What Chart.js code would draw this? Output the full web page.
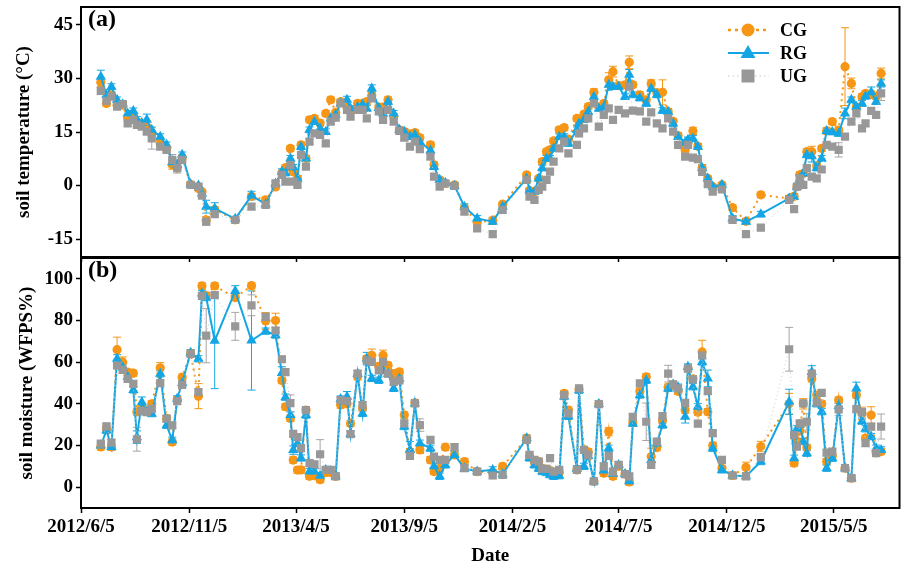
<!DOCTYPE html>
<html>
<head>
<meta charset="utf-8">
<script src="https://cdn.jsdelivr.net/npm/chart.js@4.4.0/dist/chart.umd.min.js"></script>
<style>
  html, body { margin: 0; padding: 0; background: #fff; }
  #wrap { position: relative; width: 906px; height: 571px; }
  canvas { position: absolute; left: 0; }
  #moistChart { top: 252px; }
  #tempChart { top: 0; }
</style>
</head>
<body>
<div id="wrap">
  <canvas id="moistChart" width="906" height="319"></canvas>
  <canvas id="tempChart" width="906" height="270"></canvas>
</div>
<script>
// Sampling dates
const sampleDates = [
  '2012/7/3','2012/7/11','2012/7/18','2012/7/26','2012/8/3','2012/8/10','2012/8/18','2012/8/23','2012/8/30','2012/9/6',
  '2012/9/13','2012/9/25','2012/10/4','2012/10/12','2012/10/19','2012/10/26','2012/11/7','2012/11/18','2012/11/23','2012/11/29',
  '2012/12/11','2013/1/9','2013/2/1','2013/2/21','2013/3/7','2013/3/16','2013/3/21','2013/3/28','2013/4/1','2013/4/7',
  '2013/4/12','2013/4/19','2013/4/24','2013/5/1','2013/5/9','2013/5/17','2013/5/24','2013/5/31','2013/6/7','2013/6/16',
  '2013/6/21','2013/7/1','2013/7/8','2013/7/14','2013/7/21','2013/7/31','2013/8/6','2013/8/13','2013/8/21','2013/8/29',
  '2013/9/5','2013/9/13','2013/9/20','2013/9/27','2013/10/12','2013/10/17','2013/10/25','2013/11/2','2013/11/15','2013/11/29',
  '2013/12/17','2014/1/8','2014/1/22','2014/2/25','2014/3/1','2014/3/8','2014/3/14','2014/3/19','2014/3/25','2014/3/30',
  '2014/4/4','2014/4/12','2014/4/19','2014/4/25','2014/5/7','2014/5/10','2014/5/17','2014/5/23','2014/5/31','2014/6/7',
  '2014/6/14','2014/6/21','2014/6/27','2014/7/5','2014/7/14','2014/7/20','2014/7/25','2014/8/4','2014/8/13','2014/8/20',
  '2014/8/28','2014/9/5','2014/9/13','2014/9/20','2014/9/27','2014/10/7','2014/10/11','2014/10/18','2014/10/25','2014/10/31',
  '2014/11/8','2014/11/15','2014/11/28','2014/12/13','2015/1/1','2015/1/22','2015/3/3','2015/3/10','2015/3/14','2015/3/18',
  '2015/3/23','2015/3/28','2015/4/4','2015/4/11','2015/4/18','2015/4/25','2015/5/3','2015/5/12','2015/5/21','2015/5/30',
  '2015/6/6','2015/6/14','2015/6/19','2015/6/27','2015/7/4','2015/7/11'
];

// Axis ticks
const xTickLabels = ['2012/6/5','2012/11/5','2013/4/5','2013/9/5','2014/2/5','2014/7/5','2014/12/5','2015/5/5'];
const tempTicks = [-15, 0, 15, 30, 45];
const moistTicks = [0, 20, 40, 60, 80, 100];

// (a) soil temperature
const cgTemp = [
  28.9, 23.0, 25.4, 22.5, 22.5, 18.9, 19.4, 17.8, 17.0, 16.5,
  14.6, 11.7, 10.4, 5.8, 4.9, 7.8, 0.3, -0.8, -1.7, -9.7,
  -6.7, -9.6, -3.0, -4.0, -0.4, 3.5, 5.0, 10.4, 3.9, 2.0,
  11.4, 7.6, 18.4, 18.8, 17.5, 20.2, 24.0, 20.5, 23.5, 22.0,
  21.0, 23.0, 23.0, 23.5, 25.2, 22.0, 22.0, 24.0, 19.4, 15.6,
  15.1, 14.5, 14.8, 13.4, 11.4, 5.8, 1.6, 0.6, 0.2, -6.2,
  -10.3, -9.7, -5.2, 3.0, -1.4, -1.7, 2.0, 6.7, 9.5, 10.0,
  12.5, 15.6, 16.2, 13.0, 18.8, 18.0, 20.0, 22.1, 26.1, 22.0,
  23.0, 29.6, 31.9, 28.0, 28.2, 34.5, 28.2, 25.4, 24.0, 28.6,
  26.0, 26.1, 20.7, 18.0, 14.0, 10.0, 12.0, 15.3, 11.0, 4.9,
  2.0, -0.3, 0.2, -6.2, -10.0, -2.6, -3.6, -3.0, -0.3, 3.0,
  3.4, 9.5, 9.5, 5.5, 10.4, 15.3, 17.9, 15.5, 33.3, 28.6,
  22.0, 24.9, 25.8, 25.5, 25.0, 31.4
];
const rgTemp = [
  30.5, 25.4, 27.7, 24.0, 22.8, 20.2, 20.9, 18.5, 17.5, 18.4,
  15.6, 13.7, 11.4, 6.5, 5.8, 8.6, 0.4, 0.0, -2.2, -5.9,
  -6.4, -9.3, -2.8, -5.2, 0.6, 3.9, 3.5, 7.6, 5.1, 2.0,
  10.9, 7.6, 15.6, 17.9, 16.0, 15.1, 18.8, 19.8, 23.0, 24.0,
  21.6, 22.0, 22.6, 21.6, 27.2, 21.7, 20.2, 23.5, 20.2, 15.6,
  15.1, 13.7, 14.2, 12.3, 9.8, 5.3, 1.6, 0.8, -0.1, -5.9,
  -9.2, -10.1, -5.9, 2.0, -1.4, -1.7, 2.0, 4.9, 7.6, 7.6,
  10.4, 13.7, 13.7, 11.8, 15.6, 17.4, 18.5, 20.7, 24.9, 21.6,
  22.0, 28.2, 27.7, 27.7, 24.9, 31.0, 25.4, 24.5, 23.0, 27.2,
  25.4, 21.0, 20.7, 17.4, 13.7, 12.0, 12.8, 13.2, 10.9, 4.9,
  2.0, -0.3, 0.2, -9.2, -10.1, -8.0, -3.6, -3.1, -0.3, 2.0,
  3.4, 8.6, 8.2, 4.9, 7.6, 15.3, 15.0, 14.6, 20.2, 24.0,
  22.1, 23.0, 25.0, 26.1, 23.5, 28.6
];
const ugTemp = [
  26.5, 23.7, 24.9, 22.1, 22.8, 17.4, 18.4, 17.0, 16.5, 15.1,
  13.2, 10.9, 10.0, 7.2, 4.9, 7.2, 0.2, -0.3, -2.8, -10.1,
  -8.0, -9.6, -5.9, -5.4, 0.6, 3.0, 1.1, 5.8, 1.1, 0.2,
  8.6, 5.3, 12.3, 14.6, 14.2, 11.8, 17.9, 19.0, 23.0, 21.2,
  19.3, 21.2, 21.2, 18.8, 24.4, 20.8, 18.4, 21.2, 17.9, 15.3,
  13.4, 10.9, 12.3, 10.2, 8.1, 2.5, -0.3, 0.6, -0.1, -7.3,
  -12.0, -13.6, -6.8, 1.6, -3.1, -4.0, -1.2, -0.3, 1.6, 3.9,
  6.7, 10.4, 12.3, 9.0, 11.4, 14.6, 16.0, 18.8, 23.0, 16.5,
  19.8, 21.6, 18.4, 21.2, 20.2, 27.7, 21.0, 20.8, 17.9, 20.5,
  17.4, 16.0, 18.8, 15.1, 11.4, 8.1, 11.4, 7.8, 7.4, 3.8,
  0.4, -1.7, -1.1, -9.6, -13.6, -11.8, -4.0, -6.6, -0.3, 2.0,
  0.2, 4.9, 2.5, 2.0, 4.5, 11.4, 10.9, 10.0, 13.7, 17.9,
  20.2, 16.0, 17.4, 20.9, 19.8, 25.8
];
const cgTempErr = [
  1.2, 0.8, 0.8, 0.8, 0.8, 0.8, 0.8, 0.8, 0.8, 1.5,
  0.8, 0.8, 0.8, 1.2, 0.8, 0.8, 0.6, 0.6, 0.6, 1.0,
  0.8, 0.6, 0.8, 0.8, 0.6, 0.8, 0.8, 0.8, 0.8, 0.8,
  0.8, 0.8, 0.8, 0.8, 0.8, 0.8, 0.8, 0.6, 0.8, 0.8,
  0.8, 0.8, 0.8, 0.8, 1.0, 0.8, 0.8, 0.8, 0.8, 0.8,
  0.8, 0.8, 0.8, 0.8, 0.8, 0.8, 0.6, 0.6, 0.6, 0.8,
  0.8, 0.8, 0.8, 0.6, 0.6, 0.6, 0.6, 0.8, 0.8, 0.8,
  0.8, 0.8, 0.8, 0.8, 0.8, 0.8, 0.8, 0.8, 1.0, 0.8,
  0.8, 2.0, 1.5, 0.8, 0.8, 1.8, 0.8, 0.8, 0.8, 1.0,
  0.8, 3.5, 0.8, 0.8, 0.8, 0.8, 0.8, 1.0, 0.8, 1.0,
  0.6, 0.6, 0.6, 0.8, 0.8, 0.8, 0.8, 0.8, 0.6, 0.8,
  0.8, 0.8, 1.5, 0.8, 0.8, 0.8, 0.8, 0.8, 10.9, 1.5,
  0.8, 0.8, 0.8, 1.0, 0.8, 1.5
];
const rgTempErr = [
  1.8, 0.8, 0.8, 0.8, 0.8, 0.8, 0.8, 0.8, 0.8, 1.6,
  0.8, 0.8, 0.8, 1.2, 1.4, 0.8, 0.6, 0.6, 0.6, 1.8,
  1.6, 0.6, 1.2, 0.8, 0.6, 0.8, 0.8, 0.8, 0.8, 0.8,
  0.8, 0.8, 0.8, 0.8, 0.8, 0.8, 0.8, 0.6, 0.8, 1.0,
  0.8, 0.8, 0.8, 0.8, 1.0, 0.8, 0.8, 0.8, 0.8, 0.8,
  0.8, 0.8, 0.8, 0.8, 0.8, 0.8, 0.6, 0.6, 0.6, 0.8,
  0.8, 0.8, 0.8, 0.6, 0.6, 0.6, 0.6, 0.8, 0.8, 0.8,
  0.8, 0.8, 0.8, 0.8, 0.8, 0.8, 0.8, 0.8, 0.8, 0.8,
  0.8, 1.5, 0.8, 0.8, 0.8, 1.5, 0.8, 0.8, 0.8, 0.8,
  0.8, 0.8, 0.8, 0.8, 0.8, 0.8, 0.8, 0.8, 0.8, 0.8,
  0.6, 0.6, 0.6, 0.8, 0.8, 0.8, 0.8, 0.8, 0.6, 0.8,
  0.8, 0.8, 1.6, 0.8, 0.8, 0.8, 0.8, 0.8, 1.5, 0.8,
  0.8, 0.8, 0.8, 1.5, 0.8, 1.0
];
const ugTempErr = [
  1.0, 0.8, 0.8, 0.8, 0.8, 0.8, 0.8, 0.8, 0.8, 0.8,
  3.0, 0.8, 0.8, 1.5, 1.4, 0.8, 0.6, 0.6, 0.6, 1.0,
  0.8, 0.6, 0.8, 0.8, 0.6, 0.8, 0.8, 0.8, 0.8, 0.8,
  0.8, 0.8, 0.8, 0.8, 0.8, 0.8, 0.8, 0.8, 0.8, 0.8,
  0.8, 0.8, 0.8, 0.8, 0.8, 0.8, 0.8, 0.8, 0.8, 0.8,
  0.8, 0.8, 0.8, 0.8, 0.8, 0.8, 0.6, 0.6, 0.6, 0.8,
  0.8, 0.8, 0.8, 0.6, 0.6, 0.6, 0.6, 0.8, 0.8, 0.8,
  0.8, 0.8, 0.8, 0.8, 0.8, 0.8, 0.8, 0.8, 0.8, 0.8,
  0.8, 0.8, 0.8, 0.8, 0.8, 0.8, 0.8, 0.8, 0.8, 0.8,
  0.8, 0.8, 0.8, 0.8, 0.8, 0.8, 0.8, 0.8, 0.8, 0.8,
  0.6, 0.6, 0.6, 1.0, 0.8, 0.8, 0.8, 0.8, 0.6, 0.8,
  0.8, 0.8, 0.8, 0.8, 0.8, 0.8, 0.8, 2.0, 0.8, 0.8,
  0.8, 0.8, 0.8, 0.8, 0.8, 2.0
];

// (b) soil moisture
const cgMoist = [
  19.3, 28.0, 19.3, 66.0, 60.0, 55.2, 54.7, 36.1, 38.4, 37.0,
  40.0, 57.3, 33.0, 21.7, 42.0, 52.8, 64.2, 43.7, 96.6, 92.0,
  96.6, 91.0, 96.7, 79.8, 80.0, 51.2, 38.6, 33.0, 13.0, 8.2,
  8.3, 37.0, 5.2, 5.5, 3.6, 7.0, 7.0, 5.2, 39.4, 40.0,
  30.6, 53.0, 38.0, 61.7, 63.3, 58.0, 63.3, 58.5, 54.5, 55.3,
  34.6, 17.0, 40.5, 17.9, 13.1, 7.5, 9.0, 19.2, 15.5, 12.3,
  7.5, 7.0, 10.0, 23.5, 15.0, 12.3, 12.3, 9.0, 8.5, 8.0,
  7.0, 7.0, 45.0, 37.0, 8.3, 47.0, 17.9, 17.0, 2.8, 39.9,
  6.7, 26.7, 5.2, 10.0, 6.3, 2.5, 31.0, 46.0, 53.0, 14.7,
  19.0, 32.0, 48.0, 49.0, 46.0, 37.0, 57.0, 52.0, 36.0, 64.9,
  36.2, 20.0, 9.0, 5.6, 9.5, 19.5, 40.0, 11.5, 22.0, 27.0,
  40.0, 19.0, 52.0, 44.2, 40.0, 12.3, 15.0, 41.8, 9.1, 4.3,
  44.2, 35.4, 23.5, 34.6, 16.5, 17.1
];
const rgMoist = [
  20.0, 27.3, 19.3, 61.6, 57.6, 53.0, 46.7, 24.0, 40.8, 36.0,
  35.3, 54.4, 29.7, 22.5, 42.4, 50.0, 64.5, 61.6, 93.0, 91.0,
  70.3, 94.2, 70.4, 74.9, 73.0, 54.8, 43.2, 34.6, 17.8, 21.0,
  14.0, 34.6, 7.5, 7.5, 5.5, 8.3, 7.8, 5.2, 42.3, 43.4,
  25.5, 54.5, 35.4, 61.7, 52.2, 51.3, 56.0, 54.5, 47.4, 52.0,
  29.1, 17.9, 40.2, 21.1, 18.7, 10.0, 5.2, 10.7, 15.5, 9.0,
  7.5, 8.3, 6.2, 23.5, 14.0, 10.7, 9.0, 7.5, 7.0, 6.0,
  5.2, 5.5, 43.5, 34.0, 8.8, 46.5, 10.0, 15.0, 2.8, 39.9,
  8.0, 18.7, 6.5, 10.7, 6.3, 2.8, 30.6, 44.2, 51.3, 13.0,
  21.0, 29.8, 47.4, 49.3, 48.0, 33.8, 57.7, 48.2, 38.6, 60.1,
  52.2, 18.7, 8.3, 5.6, 5.2, 12.3, 41.0, 13.9, 28.0, 30.0,
  21.9, 16.3, 55.3, 40.0, 36.2, 9.1, 13.9, 39.0, 9.1, 4.3,
  47.4, 31.7, 28.0, 24.3, 18.7, 17.9
];
const ugMoist = [
  20.9, 29.2, 21.4, 58.4, 56.3, 52.0, 49.6, 23.0, 36.5, 36.0,
  37.6, 49.9, 32.9, 29.7, 41.3, 49.1, 64.0, 45.6, 91.8, 72.7,
  92.2, 77.2, 87.3, 81.7, 75.2, 61.4, 55.2, 40.3, 25.6, 24.0,
  18.7, 37.0, 11.5, 11.0, 15.8, 8.3, 8.3, 5.2, 41.8, 41.3,
  25.5, 54.5, 39.4, 60.9, 60.1, 56.1, 60.1, 54.5, 50.6, 51.3,
  30.6, 15.0, 40.2, 29.8, 22.7, 14.7, 13.1, 13.1, 19.2, 9.1,
  7.5, 5.6, 5.9, 22.7, 15.5, 13.1, 12.3, 8.8, 8.8, 13.9,
  7.5, 8.3, 44.2, 35.4, 8.3, 47.4, 17.9, 15.5, 2.8, 39.9,
  10.0, 15.0, 7.5, 10.7, 6.3, 5.2, 33.8, 49.8, 31.4, 10.7,
  21.9, 34.1, 54.5, 49.3, 47.4, 40.5, 56.9, 51.8, 30.5, 63.3,
  46.1, 25.9, 13.1, 5.6, 5.2, 14.4, 66.2, 25.0, 19.5, 30.6,
  40.2, 31.4, 54.5, 40.7, 45.3, 16.6, 17.1, 37.3, 9.1, 4.3,
  37.5, 36.0, 21.1, 29.1, 16.3, 29.1
];
const cgMoistErr = [
  1.5, 1.5, 1.5, 6.0, 2.5, 1.5, 1.5, 1.5, 1.5, 1.5,
  1.5, 2.5, 1.5, 1.5, 1.5, 1.5, 1.5, 6.0, 1.5, 1.5,
  1.5, 1.5, 1.5, 4.0, 3.5, 1.5, 1.5, 1.5, 1.5, 1.5,
  1.5, 1.5, 1.5, 1.5, 1.5, 1.5, 1.5, 1.5, 1.5, 1.5,
  1.5, 1.5, 1.5, 1.5, 3.0, 1.5, 2.5, 1.5, 1.5, 1.5,
  1.5, 1.5, 1.5, 1.5, 1.5, 1.5, 1.5, 1.5, 1.5, 1.5,
  1.5, 1.5, 1.5, 1.5, 1.5, 1.5, 1.5, 1.5, 1.5, 1.5,
  1.5, 1.5, 1.5, 1.5, 1.5, 1.5, 1.5, 1.5, 1.5, 1.5,
  1.5, 2.0, 1.5, 1.5, 1.5, 1.5, 1.5, 1.5, 1.5, 4.0,
  1.5, 1.5, 1.5, 1.5, 1.5, 1.5, 1.5, 1.5, 1.5, 5.6,
  1.5, 1.5, 1.5, 1.5, 2.5, 2.5, 5.0, 1.5, 1.5, 1.5,
  2.5, 1.5, 1.5, 1.5, 1.5, 1.5, 1.5, 1.5, 1.5, 1.5,
  1.5, 3.0, 1.5, 4.0, 1.5, 1.5
];
const rgMoistErr = [
  1.5, 1.5, 1.5, 2.0, 1.5, 1.5, 1.5, 3.0, 2.5, 1.5,
  1.5, 1.5, 1.5, 1.5, 1.5, 1.5, 1.5, 1.5, 1.5, 1.5,
  23.0, 2.5, 23.8, 1.5, 1.5, 3.0, 1.5, 1.5, 2.0, 1.5,
  1.5, 1.5, 1.5, 1.5, 1.5, 1.5, 1.5, 1.5, 1.5, 2.5,
  1.5, 1.5, 1.5, 3.0, 1.5, 1.5, 1.5, 1.5, 1.5, 1.5,
  1.5, 4.0, 1.5, 1.5, 1.5, 1.5, 1.5, 1.5, 1.5, 1.5,
  1.5, 1.5, 1.5, 1.5, 1.5, 1.5, 1.5, 1.5, 1.5, 1.5,
  1.5, 1.5, 1.5, 1.5, 1.5, 1.5, 1.5, 1.5, 1.5, 1.5,
  1.5, 1.5, 1.5, 1.5, 1.5, 1.5, 1.5, 1.5, 1.5, 1.5,
  1.5, 1.5, 1.5, 1.5, 1.5, 3.0, 1.5, 1.5, 1.5, 1.5,
  4.0, 1.5, 1.5, 1.5, 1.5, 1.5, 6.0, 1.5, 1.5, 1.5,
  1.5, 1.5, 3.0, 1.5, 1.5, 1.5, 1.5, 1.5, 1.5, 1.5,
  3.0, 1.5, 1.5, 1.5, 1.5, 1.5
];
const ugMoistErr = [
  1.5, 1.5, 1.5, 1.5, 1.5, 1.5, 1.5, 5.7, 1.5, 1.5,
  1.5, 1.5, 1.5, 1.5, 1.5, 1.5, 1.5, 1.5, 1.5, 13.0,
  1.5, 6.7, 5.0, 1.5, 1.5, 1.5, 1.5, 4.0, 1.5, 1.5,
  1.5, 1.5, 1.5, 1.5, 7.0, 1.5, 1.5, 1.5, 1.5, 1.5,
  1.5, 1.5, 1.5, 1.5, 1.5, 1.5, 1.5, 1.5, 1.5, 1.5,
  1.5, 1.5, 1.5, 3.0, 1.5, 1.5, 1.5, 1.5, 1.5, 1.5,
  1.5, 1.5, 1.5, 1.5, 1.5, 1.5, 1.5, 1.5, 1.5, 1.5,
  1.5, 1.5, 1.5, 1.5, 1.5, 1.5, 1.5, 1.5, 1.5, 1.5,
  1.5, 1.5, 1.5, 1.5, 1.5, 1.5, 1.5, 1.5, 9.0, 1.5,
  1.5, 1.5, 4.0, 1.5, 1.5, 1.5, 1.5, 1.5, 1.5, 1.5,
  1.5, 1.5, 1.5, 1.5, 1.5, 1.5, 10.5, 1.5, 1.5, 1.5,
  1.5, 4.0, 1.5, 1.5, 1.5, 1.5, 1.5, 3.0, 1.5, 1.5,
  1.5, 1.5, 1.5, 1.5, 1.5, 6.0
];

// Colours
const ORANGE = 'rgb(246,150,20)';
const BLUE = 'rgb(20,166,228)';
const GRAY = 'rgb(152,152,152)';
const GRAY_LINE = 'rgb(200,200,200)';
const FONT = 'Liberation Serif';

// days since 2012/6/5
const START = Date.UTC(2012, 5, 5);
function dayOf(s) {
  const [y, m, d] = s.split('/').map(Number);
  return Math.round((Date.UTC(y, m - 1, d) - START) / 86400000);
}

const xs = sampleDates.map(dayOf);

function makeDatasets(cg, rg, ug, cgErr, rgErr, ugErr) {
  const pts = vals => vals.map((v, i) => ({ x: xs[i], y: v }));
  return [
    { label: 'CG', data: pts(cg), errors: cgErr, errColor: ORANGE,
      borderColor: ORANGE, backgroundColor: ORANGE, borderWidth: 2, borderDash: [2, 4],
      pointStyle: 'circle', pointRadius: 4.6, pointBorderWidth: 0, order: 2 },
    { label: 'RG', data: pts(rg), errors: rgErr, errColor: BLUE,
      borderColor: BLUE, backgroundColor: BLUE, borderWidth: 2,
      pointStyle: 'triangle', pointRadius: 6, pointBorderWidth: 0, order: 1 },
    { label: 'UG', data: pts(ug), errors: ugErr, errColor: 'rgb(165,165,165)',
      borderColor: GRAY_LINE, backgroundColor: GRAY, pointBorderColor: GRAY, borderWidth: 1, borderDash: [1, 3],
      pointStyle: 'rect', pointRadius: 5.8, pointBorderWidth: 0, order: 0 }
  ];
}

// Error bars under the markers
const errorBars = {
  id: 'errorBars',
  beforeDatasetsDraw(chart) {
    const ctx = chart.ctx;
    const yS = chart.scales.y;
    const a = chart.chartArea;
    ctx.save();
    ctx.beginPath();
    ctx.rect(a.left, a.top, a.right - a.left, a.bottom - a.top);
    ctx.clip();
    ctx.lineWidth = 1;
    [0, 1, 2].forEach(k => {
      const ds = chart.data.datasets[k];
      const meta = chart.getDatasetMeta(k);
      ctx.strokeStyle = ds.errColor;
      meta.data.forEach((p, i) => {
        const e = ds.errors[i];
        if (!e) return;
        const v = ds.data[i].y;
        const y1 = yS.getPixelForValue(v + e);
        const y2 = yS.getPixelForValue(v - e);
        ctx.beginPath();
        ctx.moveTo(p.x, y1); ctx.lineTo(p.x, y2);
        ctx.moveTo(p.x - 4, y1); ctx.lineTo(p.x + 4, y1);
        ctx.moveTo(p.x - 4, y2); ctx.lineTo(p.x + 4, y2);
        ctx.stroke();
      });
    });
    ctx.restore();
  }
};

function drawMarker(ctx, style, x, y, color) {
  ctx.fillStyle = color;
  ctx.beginPath();
  if (style === 'circle') {
    ctx.arc(x, y, 6.5, 0, Math.PI * 2);
  } else if (style === 'triangle') {
    ctx.moveTo(x, y - 8); ctx.lineTo(x + 7.5, y + 5); ctx.lineTo(x - 7.5, y + 5); ctx.closePath();
  } else {
    ctx.rect(x - 6.5, y - 6.5, 13, 13);
  }
  ctx.fill();
}

// Frame, panel letter and legend
const panelDecor = {
  id: 'panelDecor',
  afterDraw(chart, args, opts) {
    const ctx = chart.ctx;
    const a = chart.chartArea;
    ctx.save();
    ctx.strokeStyle = '#000';
    ctx.lineWidth = 2;
    ctx.strokeRect(a.left, a.top, a.right - a.left, a.bottom - a.top);
    ctx.fillStyle = '#000';
    ctx.font = 'bold 24px "' + FONT + '"';
    ctx.textBaseline = 'middle';
    ctx.textAlign = 'left';
    ctx.fillText(opts.label, 88, opts.labelY);
    if (opts.legend) {
      const rows = [
        { text: 'CG', color: ORANGE, line: ORANGE, dash: [3, 4], lw: 2.5, style: 'circle', y: 30 },
        { text: 'RG', color: BLUE, line: BLUE, dash: [], lw: 2, style: 'triangle', y: 53 },
        { text: 'UG', color: GRAY, line: GRAY_LINE, dash: [1.5, 3], lw: 1, style: 'rect', y: 76 }
      ];
      rows.forEach(r => {
        ctx.strokeStyle = r.line;
        ctx.lineWidth = r.lw;
        ctx.setLineDash(r.dash);
        ctx.beginPath();
        ctx.moveTo(728, r.y); ctx.lineTo(769, r.y);
        ctx.stroke();
        ctx.setLineDash([]);
        drawMarker(ctx, r.style, 748, r.y, r.color);
        ctx.fillStyle = '#000';
        ctx.font = 'bold 18px "' + FONT + '"';
        ctx.fillText(r.text, 780, r.y + 1);
      });
    }
    ctx.restore();
  }
};

const tickFont = { family: FONT, weight: 'bold', size: 19 };

function xScale(showLabels) {
  return {
    type: 'linear',
    min: 0,
    max: dayOf('2015/8/6'),
    afterBuildTicks: s => { s.ticks = xTickLabels.map(l => ({ value: dayOf(l) })); },
    afterFit: s => {
      s.height = showLabels ? 63 : 5;
      s.paddingLeft = 0; s.paddingRight = 0;
    },
    grid: { display: true, drawOnChartArea: false, drawTicks: true, tickLength: 5, tickWidth: 1.5, tickColor: '#000' },
    border: { display: false },
    ticks: { display: showLabels, autoSkip: false, maxRotation: 0, padding: 3, color: '#000', font: tickFont,
      callback: (v, i) => xTickLabels[i] },
    title: { display: showLabels, text: 'Date', color: '#000', font: tickFont, padding: { top: 0, bottom: 4 } }
  };
}

function yScale(min, max, tickVals, title, titlePad) {
  return {
    min: min,
    max: max,
    afterBuildTicks: s => { s.ticks = tickVals.map(v => ({ value: v })); },
    afterFit: s => {
      s.width = 81;
      s.paddingTop = 0; s.paddingBottom = 0;
    },
    grid: { display: true, drawOnChartArea: false, drawTicks: true, tickLength: 5, tickWidth: 1.5, tickColor: '#000' },
    border: { display: false },
    ticks: { color: '#000', padding: 3, font: tickFont },
    title: { display: true, text: title, color: '#000', font: tickFont, padding: { top: titlePad, bottom: 0 } }
  };
}

function makeChart(id, datasets, y, showX, padding, decor) {
  return new Chart(document.getElementById(id), {
    type: 'line',
    data: { datasets: datasets },
    options: {
      responsive: false,
      animation: false,
      devicePixelRatio: 1,
      layout: { padding: padding },
      scales: { x: xScale(showX), y: y },
      plugins: { legend: { display: false }, tooltip: { enabled: false }, panelDecor: decor }
    },
    plugins: [errorBars, panelDecor]
  });
}

makeChart('moistChart',
  makeDatasets(cgMoist, rgMoist, ugMoist, cgMoistErr, rgMoistErr, ugMoistErr),
  yScale(-10, 110, moistTicks, 'soil moisture (WFPS%)', 15.6),
  true, { top: 5, right: 6.5, left: 0, bottom: 0 },
  { label: '(b)', labelY: 19, legend: false });

makeChart('tempChart',
  makeDatasets(cgTemp, rgTemp, ugTemp, cgTempErr, rgTempErr, ugTempErr),
  yScale(-20, 50, tempTicks, 'soil temperature (°C)', 12.6),
  false, { top: 7, right: 6.5, left: 0, bottom: 8 },
  { label: '(a)', labelY: 20, legend: true });
</script>
</body>
</html>
